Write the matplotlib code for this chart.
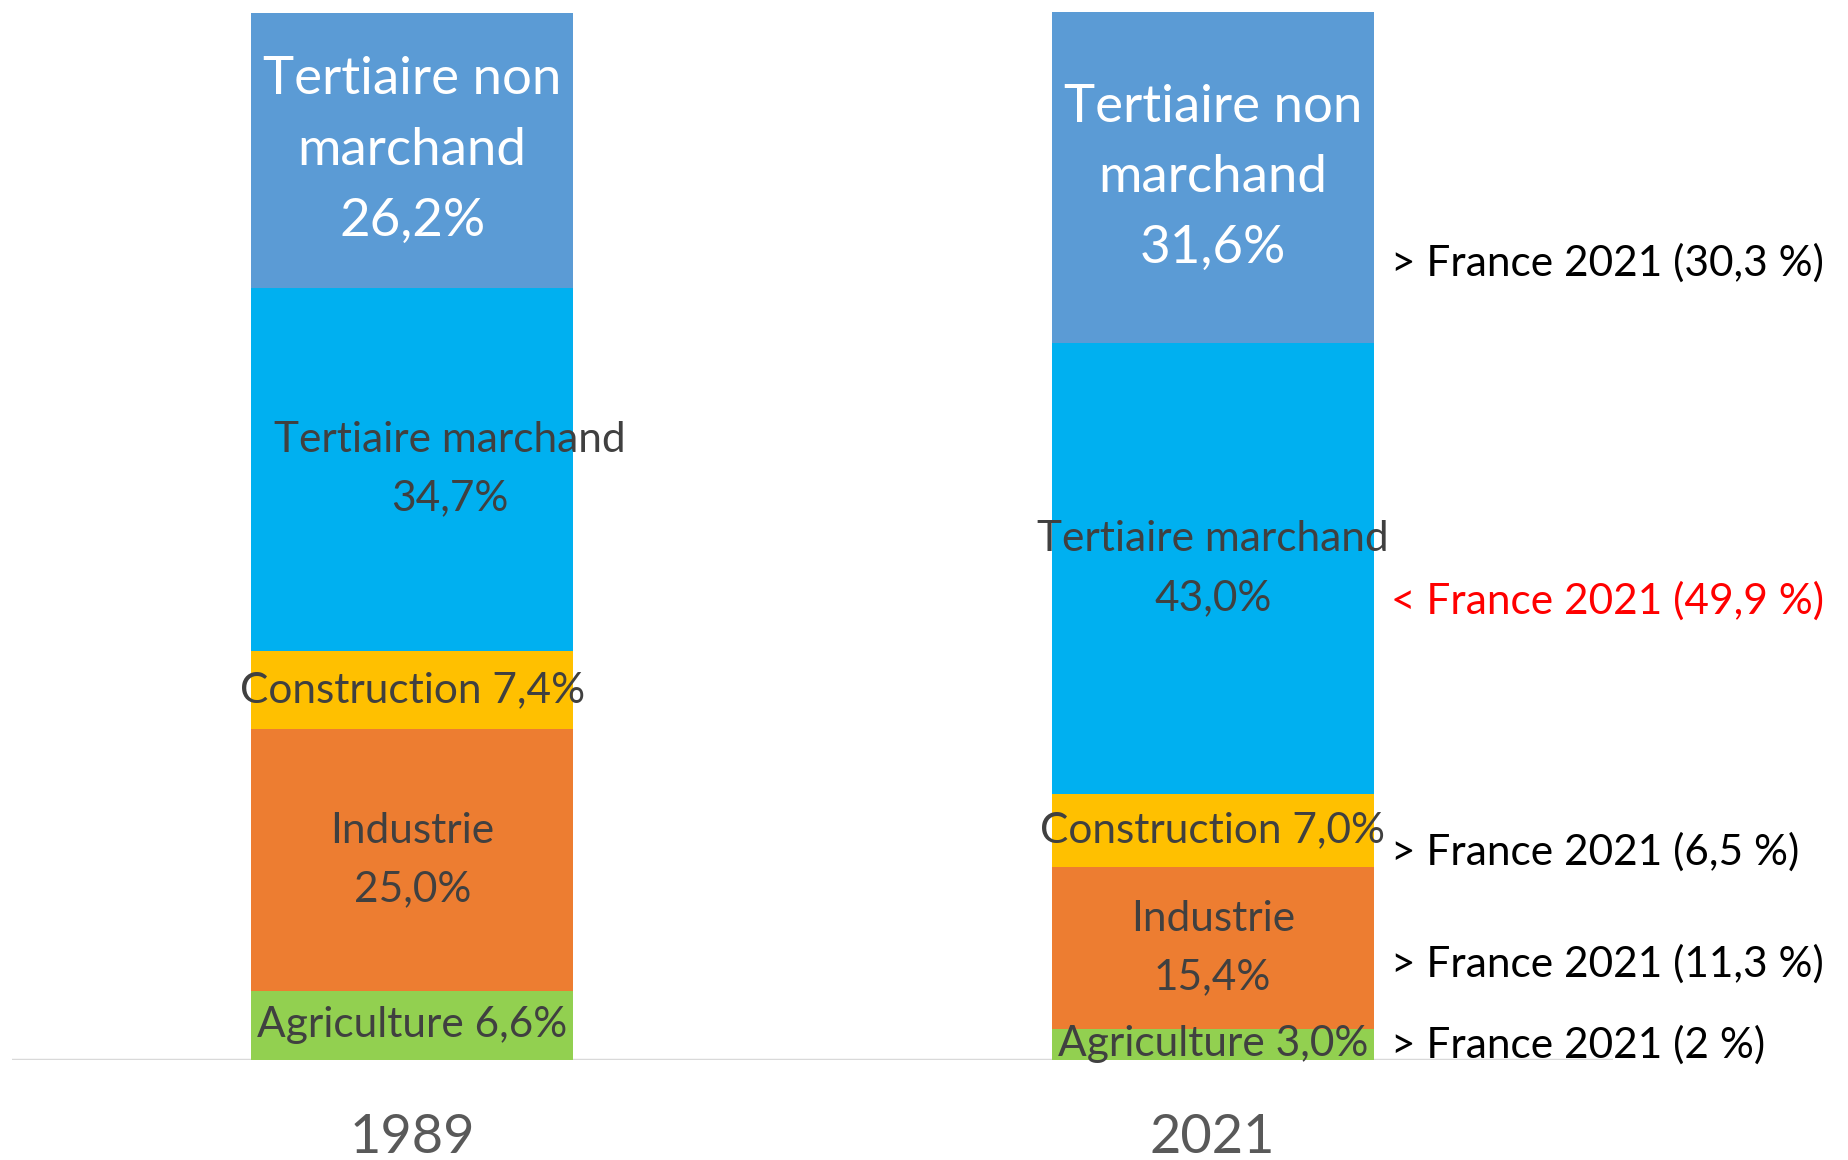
import matplotlib
matplotlib.use("Agg")
import matplotlib.pyplot as plt

plt.rcParams['font.family'] = ['Lato', 'DejaVu Sans']

years = ["1989", "2021"]
sectors = ["Agriculture", "Industrie", "Construction", "Tertiaire marchand", "Tertiaire non marchand"]
values_1989 = [6.6, 25.0, 7.4, 34.7, 26.2]
values_2021 = [3.0, 15.4, 7.0, 43.0, 31.6]
colors = ["#92D050", "#ED7D31", "#FFC000", "#00B0F0", "#5B9BD5"]

labels_1989 = ["Agriculture 6,6%", "Industrie\n25,0%", "Construction 7,4%",
               "Tertiaire marchand\n34,7%", "Tertiaire non\nmarchand\n26,2%"]
labels_2021 = ["Agriculture 3,0%", "Industrie\n15,4%", "Construction 7,0%",
               "Tertiaire marchand\n43,0%", "Tertiaire non\nmarchand\n31,6%"]

france_notes = ["> France 2021 (2 %)", "> France 2021 (11,3 %)", "> France 2021 (6,5 %)",
                "< France 2021 (49,9 %)", "> France 2021 (30,3 %)"]
note_colors = ["black", "black", "black", "#FF0000", "black"]
note_y = [1.4, 9.2, 19.85, 43.8, 76.0]

fig = plt.figure(figsize=(18.49, 11.6), dpi=100)
ax = fig.add_axes([12/1849, 100/1160, 1601/1849, 1048/1160])

width = 0.4025
x = [0, 1]
series = [values_1989, values_2021]
all_labels = [labels_1989, labels_2021]
label_dx = [[0, 0, 0, 0.047, 0], [0, 0, 0, 0, 0]]

for xi, vals, labs, dxs in zip(x, series, all_labels, label_dx):
    bottom = 0
    for v, c, lab, dx, sec in zip(vals, colors, labs, dxs, sectors):
        ax.bar(xi, v, width, bottom=bottom, color=c, edgecolor='none', zorder=2)
        if sec == "Tertiaire non marchand":
            ax.text(xi + dx, bottom + v / 2, lab, ha='center', va='center',
                    color='white', fontsize=38, linespacing=1.62, zorder=4)
        else:
            ax.text(xi + dx, bottom + v / 2, lab, ha='center', va='center',
                    color='#404040', fontsize=30.5, linespacing=1.66, zorder=4)
        bottom += v

for txt, col, yy in zip(france_notes, note_colors, note_y):
    ax.text(1 + width / 2 + 0.022, yy, txt, ha='left', va='center', color=col,
            fontsize=30.5, zorder=4, clip_on=False)

ax.set_xlim(-0.5, 1.5)
ax.set_ylim(0, 100)
ax.axhline(0, color='#D9D9D9', lw=2.5, zorder=1)
for s in ax.spines.values():
    s.set_visible(False)
ax.set_yticks([])
ax.set_xticks(x)
ax.set_xticklabels(years, fontsize=39, color='#595959')
ax.tick_params(axis='x', length=0, pad=38)

fig.savefig("out.png", dpi=100)
